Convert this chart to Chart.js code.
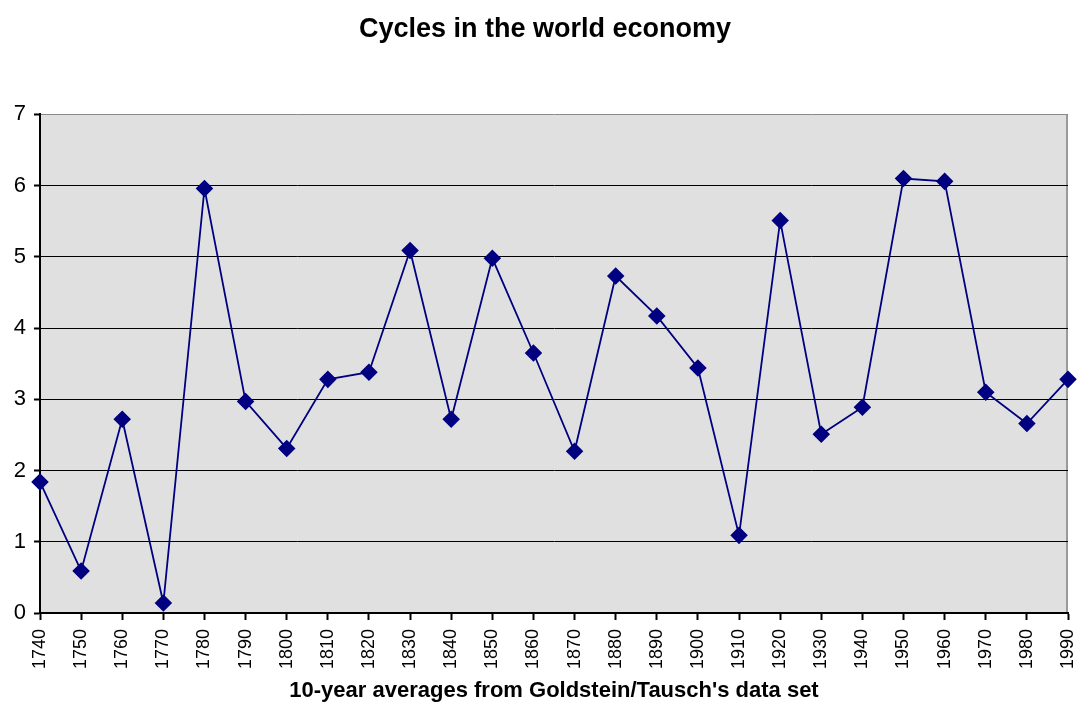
<!DOCTYPE html>
<html>
<head>
<meta charset="utf-8">
<script src="https://cdn.jsdelivr.net/npm/chart.js@4/dist/chart.umd.min.js"></script>
<style>
html,body{margin:0;padding:0;background:#fff;}
#wrap{width:1078px;height:706px;position:relative;}
</style>
</head>
<body>
<div id="wrap"><canvas id="c" width="1078" height="706"></canvas></div>
<script>
const years = ['1740','1750','1760','1770','1780','1790','1800','1810','1820','1830','1840','1850','1860','1870','1880','1890','1900','1910','1920','1930','1940','1950','1960','1970','1980','1990'];
const cycleValues = [1.84,0.59,2.72,0.14,5.96,2.97,2.31,3.28,3.38,5.09,2.72,4.98,3.65,2.27,4.73,4.17,3.44,1.09,5.51,2.51,2.89,6.10,6.06,3.10,2.66,3.28];
const yTicks = [0,1,2,3,4,5,6,7];

const bgPlugin = {
  id: 'plotBg',
  beforeDraw(chart) {
    const {ctx, chartArea: a} = chart;
    ctx.save();
    ctx.fillStyle = '#e0e0e0';
    ctx.fillRect(a.left, a.top, a.right - a.left, a.bottom - a.top);
    ctx.strokeStyle = '#9a9a9a';
    ctx.lineWidth = 2;
    ctx.beginPath();
    ctx.moveTo(a.right - 1, a.top);
    ctx.lineTo(a.right - 1, a.bottom);
    ctx.stroke();
    ctx.restore();
  }
};

Chart.defaults.font.family = '"Liberation Sans", Arial, sans-serif';
Chart.defaults.color = '#000';

new Chart(document.getElementById('c'), {
  type: 'line',
  data: {
    labels: years,
    datasets: [{
      data: cycleValues,
      borderColor: '#000080',
      backgroundColor: '#000080',
      borderWidth: 1.8,
      pointStyle: 'rectRot',
      pointRadius: 7.5,
      pointHoverRadius: 7.5,
      tension: 0,
      fill: false
    }]
  },
  options: {
    responsive: false,
    animation: false,
    events: [],
    layout: {padding: {left: 12, right: 0, top: 0, bottom: 2}},
    plugins: {
      legend: {display: false},
      tooltip: {enabled: false},
      title: {
        display: true,
        text: 'Cycles in the world economy',
        font: {size: 27, weight: 'bold'},
        color: '#000',
        padding: {top: 13, bottom: 69}
      }
    },
    scales: {
      x: {
        offset: false,
        grid: {
          drawOnChartArea: false,
          drawTicks: true,
          tickLength: 7,
          tickColor: '#000',
          tickWidth: 2
        },
        border: {display: true, color: '#000', width: 2},
        ticks: {
          autoSkip: false,
          maxRotation: 90,
          minRotation: 90,
          padding: 9,
          font: {size: 18}
        },
        title: {
          display: true,
          text: "10-year averages from Goldstein/Tausch's data set",
          font: {size: 22, weight: 'bold'},
          padding: {top: 6, bottom: 0}
        },
        afterFit(s) { s.height = 91; s.paddingRight = 10; s.paddingLeft = 0; }
      },
      y: {
        min: 0,
        max: 7,
        afterBuildTicks(s) { s.ticks = yTicks.map(v => ({value: v})); },
        grid: {
          color: ctx => (ctx.tick && (ctx.tick.value === 7)) ? '#8a8a8a' : '#000',
          lineWidth: 1,
          borderDash: [2, 2],
          drawTicks: true,
          tickLength: 6,
          tickColor: '#000',
          tickWidth: 2,
          tickBorderDash: []
        },
        border: {display: true, color: '#000', width: 2, dash: []},
        ticks: {
          font: {size: 22},
          padding: 8,
          stepSize: 1
        },
        afterFit(s) { s.width = 28; }
      }
    }
  },
  plugins: [bgPlugin]
});
</script>
</body>
</html>
